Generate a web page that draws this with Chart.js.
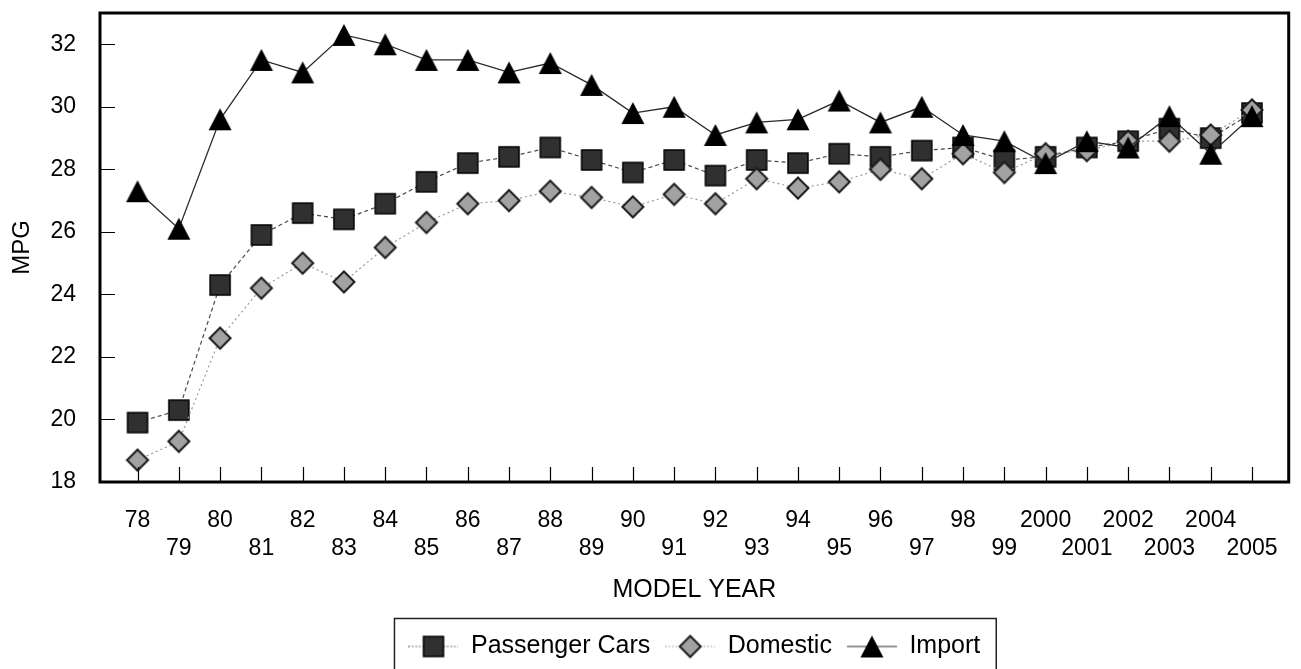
<!DOCTYPE html>
<html>
<head>
<meta charset="utf-8">
<script src="https://cdn.jsdelivr.net/npm/chart.js@4/dist/chart.umd.min.js"></script>
<style>
  html, body { margin: 0; padding: 0; background: #fff; }
  #wrap { width: 1301px; height: 669px; }
</style>
</head>
<body>
<div id="wrap"><canvas id="mpgChart"></canvas></div>
<script>
// model years along the x axis
const years = ['78', '79', '80', '81', '82', '83', '84', '85', '86', '87', '88', '89', '90', '91',
    '92', '93', '94', '95', '96', '97', '98', '99', '2000', '2001', '2002', '2003', '2004', '2005'];

const passengerCars = [19.9, 20.3, 24.3, 25.9, 26.6, 26.4, 26.9, 27.6, 28.2, 28.4, 28.7, 28.3, 27.9, 28.3,
    27.8, 28.3, 28.2, 28.5, 28.4, 28.6, 28.7, 28.3, 28.4, 28.7, 28.9, 29.3, 29.0, 29.8];
const domestic = [18.7, 19.3, 22.6, 24.2, 25.0, 24.4, 25.5, 26.3, 26.9, 27.0, 27.3, 27.1, 26.8, 27.2,
    26.9, 27.7, 27.4, 27.6, 28.0, 27.7, 28.5, 27.9, 28.5, 28.6, 28.9, 28.9, 29.1, 29.9];
const imports = [27.3, 26.1, 29.6, 31.5, 31.1, 32.3, 32.0, 31.5, 31.5, 31.1, 31.4, 30.7, 29.8, 30.0,
    29.1, 29.5, 29.6, 30.2, 29.5, 30.0, 29.1, 28.9, 28.2, 28.9, 28.7, 29.7, 28.5, 29.7];

const seriesNames = ['Passenger Cars', 'Domestic', 'Import'];
const yTicks = { min: 18, max: 33, step: 2 };

const FONT = "'Liberation Sans', Arial, Helvetica, sans-serif";

function makeCanvas(w, h) {
    const c = document.createElement('canvas');
    c.width = w;
    c.height = h;
    return c;
}

// marker shapes
function drawSquare(ctx, cx, cy) {
    ctx.fillStyle = '#303030';
    ctx.fillRect(cx - 10, cy - 10, 20, 20);
    ctx.strokeStyle = '#000';
    ctx.lineWidth = 1.5;
    ctx.strokeRect(cx - 10, cy - 10, 20, 20);
}
function drawDiamond(ctx, cx, cy) {
    ctx.beginPath();
    ctx.moveTo(cx, cy - 10.5);
    ctx.lineTo(cx + 10.5, cy);
    ctx.lineTo(cx, cy + 10.5);
    ctx.lineTo(cx - 10.5, cy);
    ctx.closePath();
    ctx.fillStyle = '#a2a2a2';
    ctx.fill();
    ctx.strokeStyle = '#1a1a1a';
    ctx.lineWidth = 2;
    ctx.stroke();
}
function drawTriangle(ctx, cx, cy) {
    ctx.beginPath();
    ctx.moveTo(cx, cy - 11);
    ctx.lineTo(cx + 11.5, cy + 11);
    ctx.lineTo(cx - 11.5, cy + 11);
    ctx.closePath();
    ctx.fillStyle = '#000';
    ctx.fill();
}

const shapes = [drawSquare, drawDiamond, drawTriangle];
const lineColors = ['#4a4a4a', '#9a9a9a', '#2a2a2a'];
const lineDashes = [[4, 3], [2, 3], []];
const lineWidths = [1.2, 1.2, 1.3];

const markers = shapes.map(fn => {
    const c = makeCanvas(26, 26);
    fn(c.getContext('2d'), 13, 13);
    return c;
});

const legendIcons = shapes.map((fn, i) => {
    const c = makeCanvas(50, 26);
    const g = c.getContext('2d');
    g.strokeStyle = lineColors[i];
    g.lineWidth = 1.2;
    g.setLineDash(i === 2 ? [] : [1.5, 2]);
    g.beginPath();
    g.moveTo(0, 13);
    g.lineTo(50, 13);
    g.stroke();
    g.setLineDash([]);
    fn(g, 25, 13);
    return c;
});

const toPoints = arr => arr.map((v, i) => ({ x: i, y: v }));

// frame round the plot, inside tick marks and the box round the legend
const framePlugin = {
    id: 'frame',
    afterDraw(chart) {
        const { ctx, chartArea: a, scales } = chart;
        ctx.save();
        ctx.strokeStyle = '#000';
        ctx.lineWidth = 1.2;
        ctx.beginPath();
        scales.x.ticks.forEach(t => {
            const px = Math.round(scales.x.getPixelForValue(t.value)) + 0.5;
            ctx.moveTo(px, a.bottom);
            ctx.lineTo(px, a.bottom - 15);
        });
        scales.y.ticks.forEach(t => {
            const py = Math.round(scales.y.getPixelForValue(t.value)) + 0.5;
            ctx.moveTo(a.left, py);
            ctx.lineTo(a.left + 15, py);
        });
        ctx.stroke();

        ctx.lineWidth = 3;
        ctx.strokeRect(a.left, a.top, a.right - a.left, a.bottom - a.top);

        const hb = chart.legend.legendHitBoxes;
        if (hb && hb.length) {
            const first = hb[0], last = hb[hb.length - 1];
            const cy = first.top + first.height / 2;
            const left = first.left - 14;
            const right = last.left + last.width + 16;
            ctx.lineWidth = 1.5;
            ctx.strokeStyle = '#222';
            ctx.strokeRect(left, cy - 28, right - left, 80);
        }
        ctx.restore();
    }
};

document.addEventListener('DOMContentLoaded', function() {
    const ctx = document.getElementById('mpgChart').getContext('2d');
    const series = [passengerCars, domestic, imports];

    new Chart(ctx, {
        type: 'line',
        data: {
            datasets: series.map((vals, i) => ({
                label: seriesNames[i],
                data: toPoints(vals),
                borderColor: lineColors[i],
                borderWidth: lineWidths[i],
                borderDash: lineDashes[i],
                pointStyle: markers[i],
                pointRadius: 11,
                pointHoverRadius: 11,
                tension: 0,
                fill: false,
                order: 3 - i
            }))
        },
        plugins: [framePlugin],
        options: {
            responsive: true,
            maintainAspectRatio: false,
            animation: false,
            layout: { padding: { top: 13, right: 3, bottom: 0, left: 0 } },
            plugins: {
                tooltip: { enabled: false },
                legend: {
                    display: true,
                    position: 'bottom',
                    fullSize: false,
                    labels: {
                        usePointStyle: true,
                        pointStyleWidth: 50,
                        padding: 15,
                        color: '#000',
                        font: { family: FONT, size: 25 },
                        generateLabels: chart => chart.data.datasets.map((ds, i) => ({
                            text: ds.label,
                            pointStyle: legendIcons[i],
                            fillStyle: '#000',
                            strokeStyle: '#000',
                            lineWidth: 0,
                            hidden: false,
                            datasetIndex: i
                        }))
                    }
                }
            },
            scales: {
                x: {
                    type: 'linear',
                    min: -0.91,
                    max: years.length - 1 + 0.89,
                    grid: { display: false, drawTicks: false },
                    border: { display: false },
                    afterBuildTicks: scale => {
                        scale.ticks = years.map((y, i) => ({ value: i }));
                    },
                    afterFit: scale => {
                        scale.height = 137;
                        scale.paddingLeft = 0;
                        scale.paddingRight = 0;
                    },
                    ticks: {
                        autoSkip: false,
                        maxRotation: 0,
                        padding: 25,
                        color: '#000',
                        font: { family: FONT, size: 23, lineHeight: 1.217 },
                        callback: value => (value % 2 === 0 ? [years[value], ''] : ['', years[value]])
                    },
                    title: {
                        display: true,
                        text: 'MODEL YEAR',
                        color: '#000',
                        font: { family: FONT, size: 25, lineHeight: 1.2 },
                        padding: { top: 14, bottom: 14 }
                    }
                },
                y: {
                    min: yTicks.min,
                    max: yTicks.max,
                    grid: { display: false, drawTicks: false },
                    border: { display: false },
                    afterFit: scale => {
                        scale.width = 100;
                        scale.paddingTop = 0;
                        scale.paddingBottom = 0;
                    },
                    ticks: {
                        stepSize: yTicks.step,
                        includeBounds: false,
                        padding: 24,
                        color: '#000',
                        font: { family: FONT, size: 23 }
                    },
                    title: {
                        display: true,
                        text: 'MPG',
                        color: '#000',
                        font: { family: FONT, size: 24, lineHeight: 1.2 },
                        padding: { top: 8, bottom: 14 }
                    }
                }
            }
        }
    });
});
</script>
</body>
</html>
